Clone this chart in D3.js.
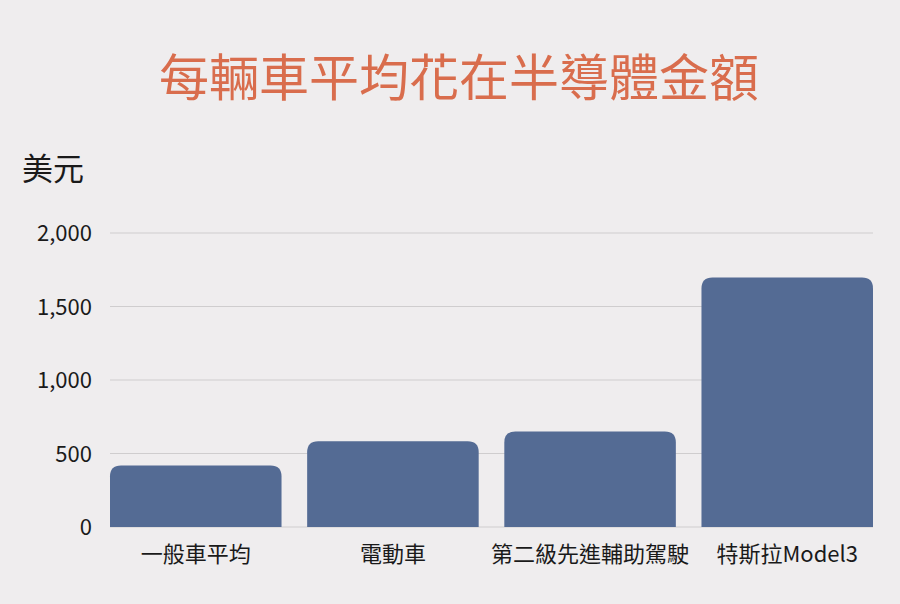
<html><head>
<meta charset="utf-8">
<title>每輛車平均花在半導體金額</title>
<script src="https://d3js.org/d3.v7.min.js"></script>
<style>
  body { margin: 0; background: #efedee; }
  text { font-family: "Noto Sans CJK TC", "Noto Sans", sans-serif; }
</style>
</head>
<body>
<svg id="chart" width="900" height="604"></svg>
<script>
  const categories = ["一般車平均", "電動車", "第二級先進輔助駕駛", "特斯拉Model3"];
  const values = [418, 583, 650, 1697];
  const yTicks = [0, 500, 1000, 1500, 2000];

  const svg = d3.select("svg#chart");
  const width = 900, height = 604;
  const margin = { top: 233, right: 27, bottom: 77, left: 110 };

  svg.append("rect").attr("width", width).attr("height", height).attr("fill", "#efedee");

  const x = d3.scaleBand().domain(categories)
    .range([margin.left, width - margin.right])
    .paddingInner(0.13).paddingOuter(0);
  const y = d3.scaleLinear().domain([0, 2000])
    .range([height - margin.bottom, margin.top]);

  // gridlines
  svg.selectAll("line.grid").data(yTicks)
    .join("line")
    .attr("class", "grid")
    .attr("x1", margin.left)
    .attr("x2", width - margin.right)
    .attr("y1", d => y(d))
    .attr("y2", d => y(d))
    .attr("stroke", "#cfcdce")
    .attr("stroke-width", 1.2);

  // y tick labels
  svg.selectAll("text.ytick").data(yTicks)
    .join("text")
    .attr("class", "ytick")
    .attr("x", 92)
    .attr("y", d => y(d) + 8)
    .attr("text-anchor", "end")
    .attr("font-size", 22)
    .attr("fill", "#1a1a1a")
    .text(d => d3.format(",")(d));

  // bars with rounded tops
  const r = 11;
  const barPath = function(d, i) {
    const x0 = x(categories[i]), x1 = x0 + x.bandwidth();
    const y0 = y(0), y1 = y(d);
    return `M${x0},${y0} L${x0},${y1 + r} Q${x0},${y1} ${x0 + r},${y1} L${x1 - r},${y1} Q${x1},${y1} ${x1},${y1 + r} L${x1},${y0} Z`;
  };
  svg.selectAll("path.bar").data(values)
    .join("path")
    .attr("class", "bar")
    .attr("fill", "#546b94")
    .attr("d", barPath);

  // x labels
  svg.selectAll("text.xlab").data(categories)
    .join("text")
    .attr("class", "xlab")
    .attr("x", d => x(d) + x.bandwidth() / 2)
    .attr("y", 562)
    .attr("text-anchor", "middle")
    .attr("font-size", 22)
    .attr("fill", "#1a1a1a")
    .text(d => d);

  // unit label
  svg.append("text")
    .attr("x", 22)
    .attr("y", 180)
    .attr("font-size", 31)
    .attr("fill", "#1a1a1a")
    .text("美元");

  // title
  svg.append("text")
    .attr("x", 459)
    .attr("y", 96)
    .attr("text-anchor", "middle")
    .attr("font-size", 50)
    .attr("fill", "#d96d4d")
    .text("每輛車平均花在半導體金額");
</script>
</body>
</html>
